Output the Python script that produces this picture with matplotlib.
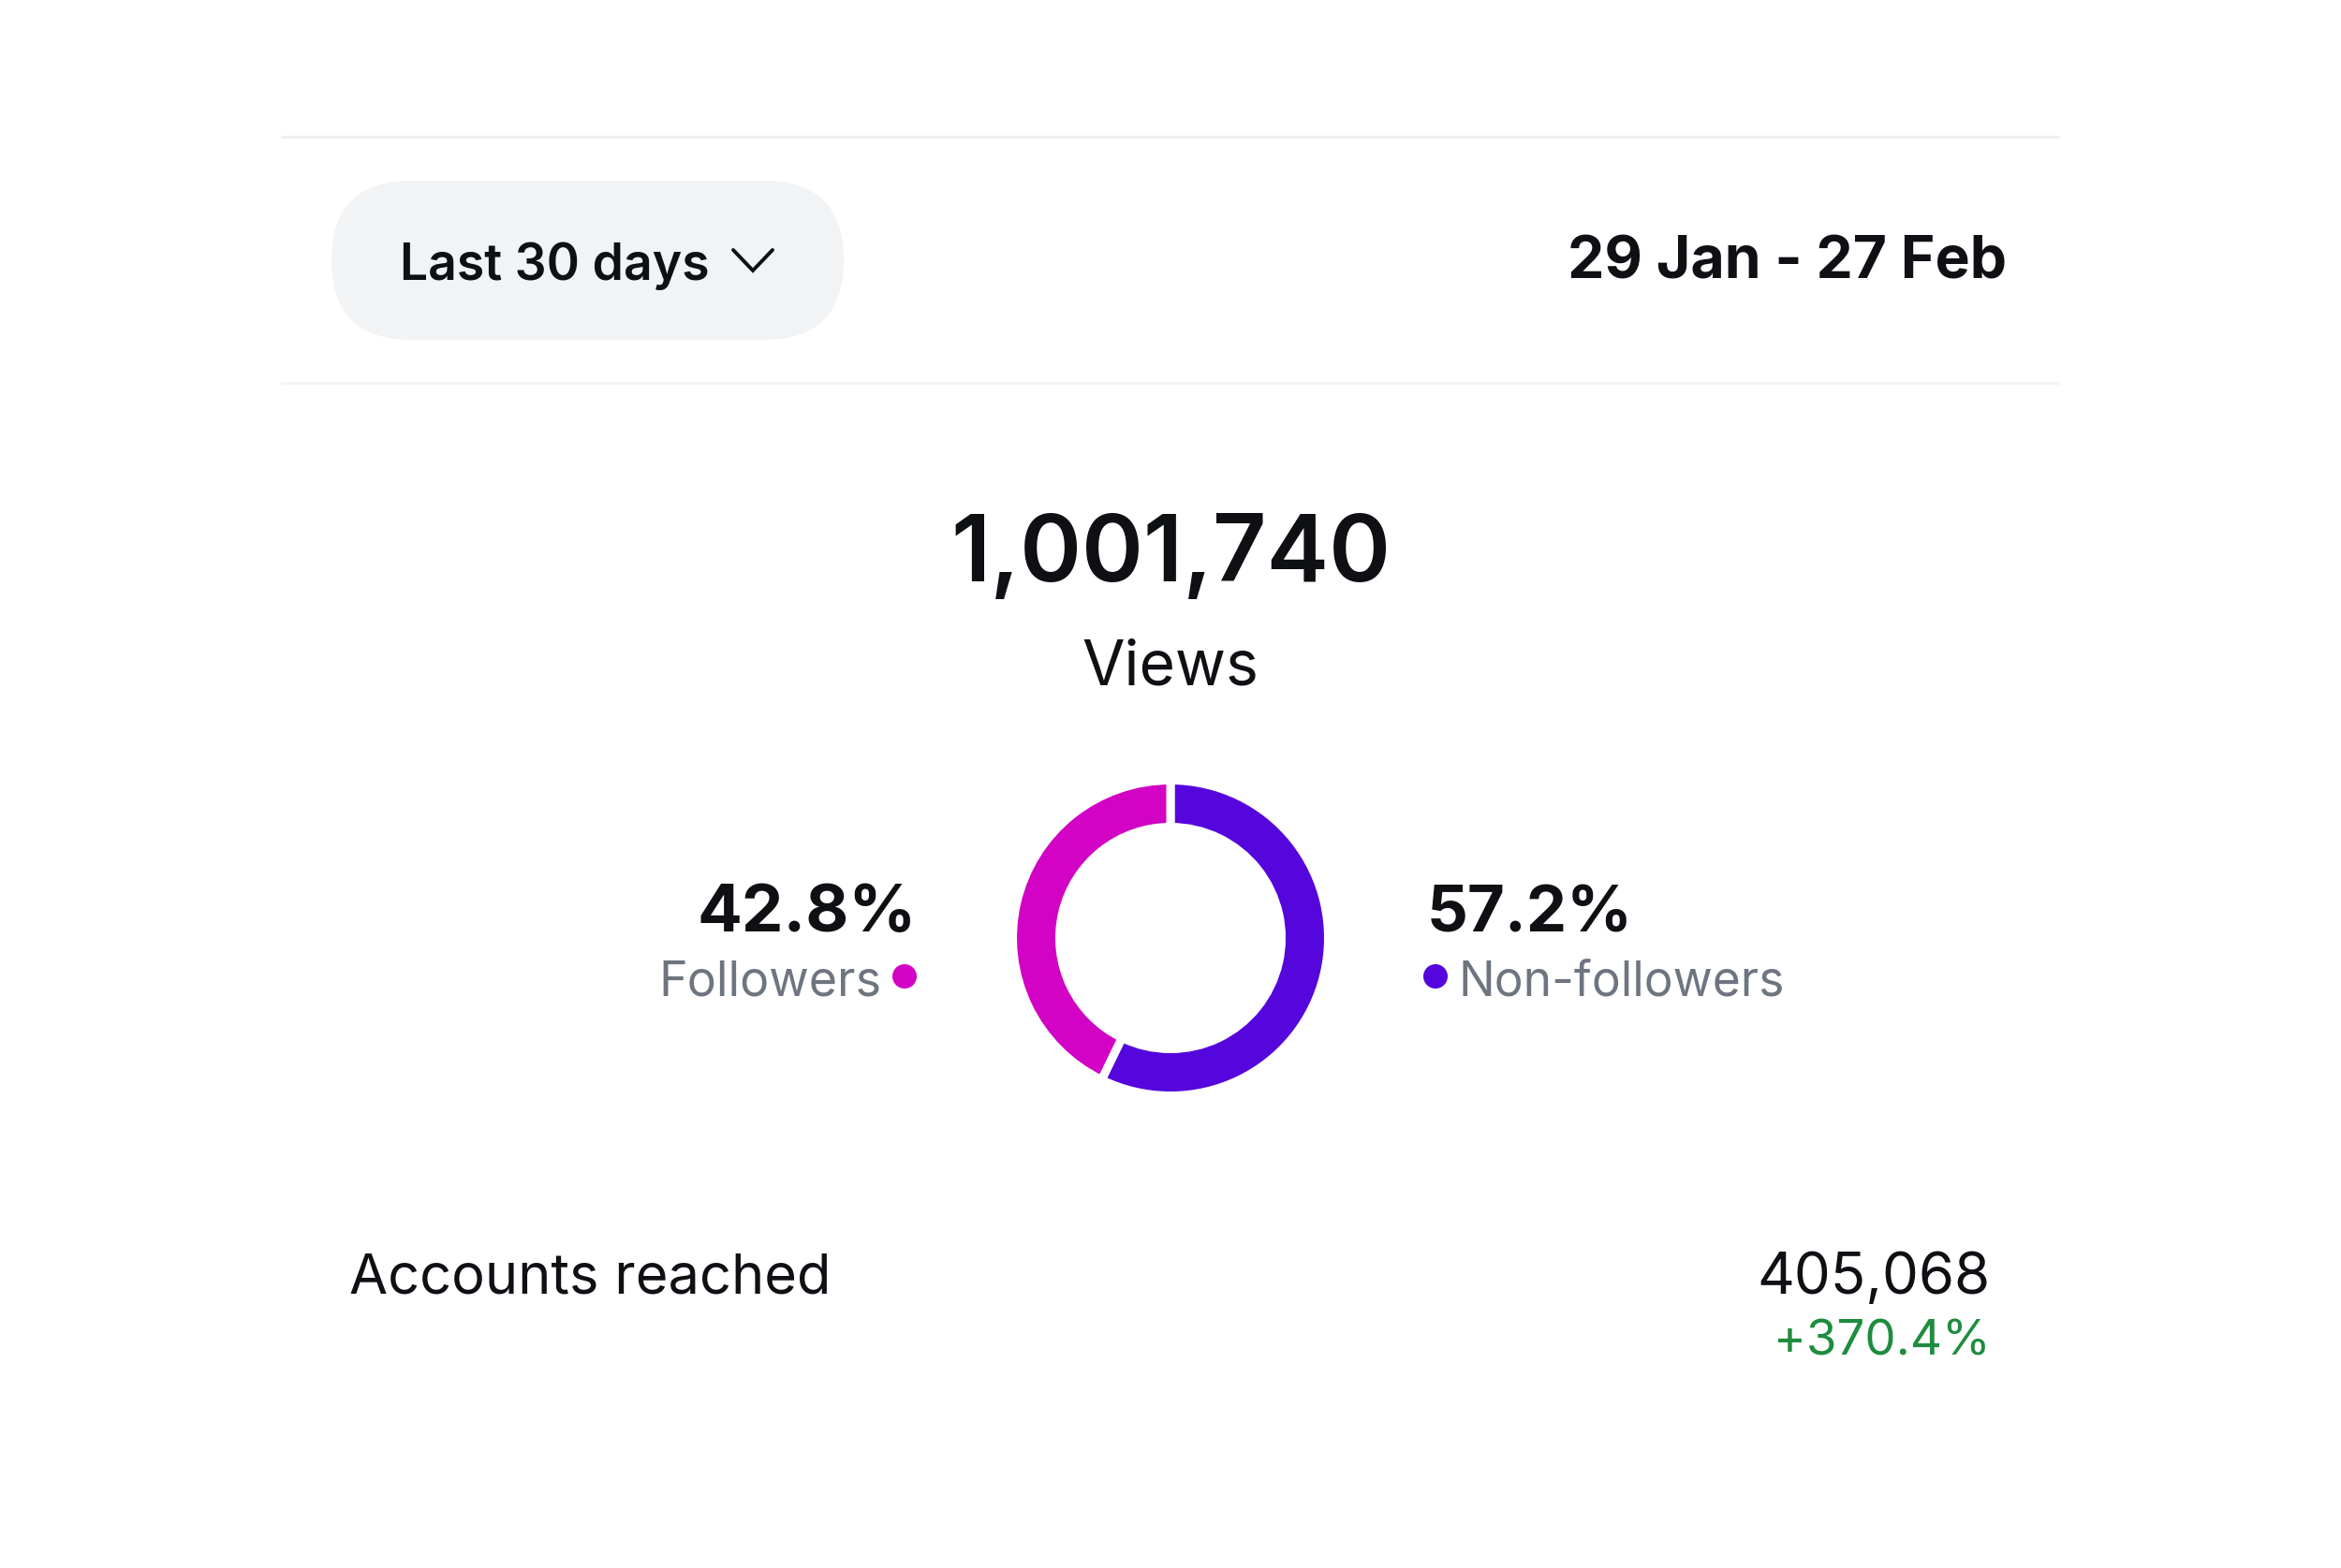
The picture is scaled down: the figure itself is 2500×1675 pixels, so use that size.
import matplotlib
matplotlib.use("Agg")
import matplotlib.pyplot as plt
from matplotlib.patches import FancyBboxPatch, Circle
from matplotlib.lines import Line2D

plt.rcParams['font.family'] = ['Inter', 'DejaVu Sans']

# ---- data ----
period_label = "Last 30 days"
date_range = "29 Jan - 27 Feb"
total_views = "1,001,740"
views_label = "Views"
segments = ["Non-followers", "Followers"]
shares = [57.2, 42.8]
colors = ["#5506DC", "#D203C4"]
metric_label = "Accounts reached"
metric_value = "405,068"
metric_change = "+370.4%"

W, H = 2500, 1675
fig = plt.figure(figsize=(25, 16.75), dpi=100)
ax = fig.add_axes([0, 0, 1, 1])

def Y(y):
    return H - y

BLACK = "#0E1014"
GREY = "#6E7580"
GREEN = "#1E8C3E"

# dividers
ax.add_line(Line2D([301, 2198], [Y(146), Y(146)], color="#EFEFF1", lw=2.2))
ax.add_line(Line2D([301, 2198], [Y(409), Y(409)], color="#F4F4F6", lw=2.2))

# pill
r = 85
pill = FancyBboxPatch((354 + r, Y(363) + r), (901 - 354) - 2 * r, 0,
                      boxstyle=f"round,pad={r}", fc="#F2F3F5", ec="none")
ax.add_patch(pill)
ax.text(427, Y(299), period_label, fontsize=38.5, fontweight="semibold",
        color=BLACK, ha="left", va="baseline")
ax.add_line(Line2D([783, 804, 825], [Y(267), Y(289), Y(267)],
                   color=BLACK, lw=2.8, solid_capstyle="round",
                   solid_joinstyle="miter"))

ax.text(2143, Y(298), date_range, fontsize=45, fontweight="bold",
        color=BLACK, ha="right", va="baseline")

# headline
ax.text(1250, Y(621), total_views, fontsize=72, fontweight="semibold",
        color=BLACK, ha="center", va="baseline")
ax.text(1250, Y(732), views_label, fontsize=47.5, fontweight="normal",
        color=BLACK, ha="center", va="baseline")

# donut
cx, cy = 1250, Y(1002)
lw_gap = 6.5
ax.pie(shares, colors=colors, startangle=90, counterclock=False,
       radius=164 + 4.5, center=(cx, cy),
       wedgeprops=dict(width=41 + 9, edgecolor="white", linewidth=lw_gap))

# labels
ax.text(979, Y(995), f"{shares[1]:.1f}%", fontsize=51, fontweight="bold",
        color=BLACK, ha="right", va="baseline")
ax.text(942, Y(1063), segments[1], fontsize=37.4, color=GREY,
        ha="right", va="baseline")
ax.add_patch(Circle((966, Y(1043)), 13, fc=colors[1], ec="none"))

ax.text(1524, Y(995), f"{shares[0]:.1f}%", fontsize=49.5, fontweight="bold",
        color=BLACK, ha="left", va="baseline")
ax.text(1557, Y(1063), segments[0], fontsize=37.1, color=GREY,
        ha="left", va="baseline")
ax.add_patch(Circle((1533, Y(1043)), 13, fc=colors[0], ec="none"))

# metric row
ax.text(373, Y(1381), metric_label, fontsize=42.9, color=BLACK,
        ha="left", va="baseline")
ax.text(2126, Y(1382), metric_value, fontsize=44.5, color=BLACK,
        ha="right", va="baseline")
ax.text(2126, Y(1448), metric_change, fontsize=38, color=GREEN,
        ha="right", va="baseline")

ax.set_xlim(0, W)
ax.set_ylim(0, H)
ax.set_aspect("auto")
ax.axis("off")

fig.savefig("out.png", dpi=100, facecolor="white")
